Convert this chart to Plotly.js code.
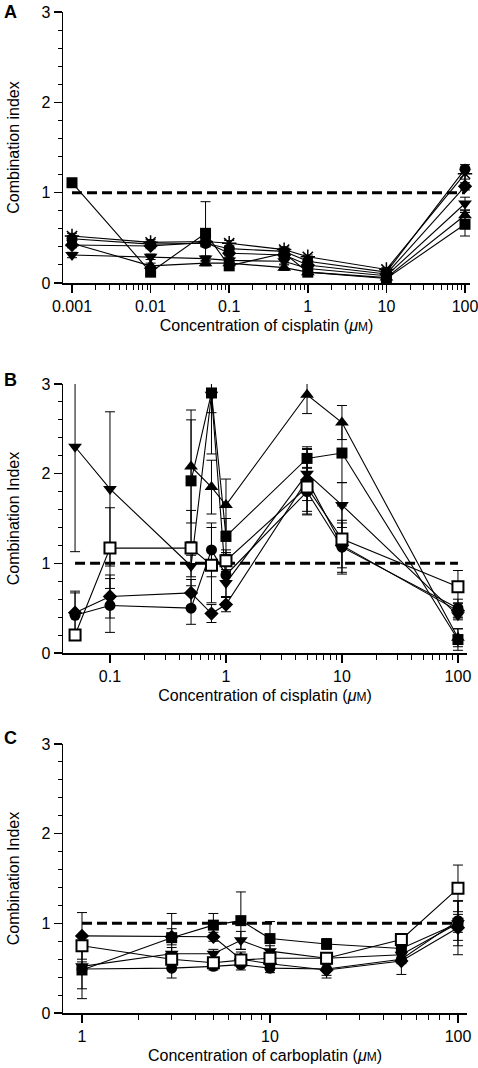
<!DOCTYPE html>
<html>
<head>
<meta charset="utf-8">
<script src="https://cdn.plot.ly/plotly-3.0.1.min.js"></script>
<style>html,body{margin:0;padding:0;background:#fff;}#chart{width:478px;height:1068px;}</style>
</head>
<body>
<div id="chart"></div>
<script>
// ---------- Panel A : cisplatin ----------
const xA = [0.001, 0.01, 0.05, 0.1, 0.5, 1, 10, 100];
const aSquare     = [1.11, 0.12, 0.55, 0.19, 0.33, 0.12, 0.05, 0.65];
const aSquareErr  = [0.02, 0.03, 0.35, 0.03, 0.03, 0.03, 0.02, 0.13];
const aCircle     = [0.49, 0.43, 0.44, 0.38, 0.35, 0.24, 0.12, 1.26];
const aCircleErr  = [0.03, 0.03, 0.04, 0.03, 0.03, 0.03, 0.02, 0.05];
const aTriUp      = [0.44, 0.19, 0.22, 0.22, 0.17, 0.12, 0.06, 0.75];
const aTriUpErr   = [0.03, 0.03, 0.03, 0.03, 0.03, 0.02, 0.02, 0.05];
const aTriDown    = [0.31, 0.29, 0.27, 0.25, 0.24, 0.16, 0.08, 0.88];
const aTriDownErr = [0.03, 0.03, 0.03, 0.03, 0.03, 0.02, 0.02, 0.07];
const aDiamond    = [0.42, 0.41, 0.45, 0.33, 0.31, 0.20, 0.10, 1.07];
const aDiamondErr = [0.03, 0.03, 0.03, 0.03, 0.03, 0.02, 0.02, 0.04];
const aStar       = [0.52, 0.45, 0.46, 0.44, 0.37, 0.29, 0.15, 1.21];
const aStarErr    = [0.03, 0.03, 0.03, 0.03, 0.03, 0.02, 0.02, 0.06];
const aTickVals = [0.001, 0.01, 0.1, 1, 10, 100];
const aTickText = ['0.001', '0.01', '0.1', '1', '10', '100'];

// ---------- Panel B : cisplatin ----------
const xB = [0.05, 0.1, 0.5, 0.75, 1, 5, 10, 100];
const bSquare        = [null, null, 1.92, 2.90, 1.30, 2.17, 2.23, 0.15];
const bSquareErr     = [null, null, 0.68, 0.68, 0.20, 0.10, 0.33, 0.12];
const bTriUp         = [null, null, 2.08, 1.85, 1.65, 2.88, 2.57, 0.17];
const bTriUpErr      = [null, null, 0.63, 0.30, 0.29, 0.21, 0.19, 0.10];
const bTriDown       = [2.30, 1.83, 0.97, 2.88, 0.78, 2.00, 1.65, 0.42];
const bTriDownErr    = [1.17, 0.86, 0.12, 0.20, 0.15, 0.30, 0.25, 0.05];
const bDiamond       = [0.45, 0.63, 0.67, 0.44, 0.54, 1.93, 1.20, 0.47];
const bDiamondErr    = [0.22, 0.24, 0.15, 0.10, 0.08, 0.35, 0.25, 0.08];
const bCircle        = [0.42, 0.53, 0.50, 1.15, 0.87, 1.80, 1.18, 0.50];
const bCircleErr     = [0.27, 0.30, 0.18, 0.30, 0.25, 0.26, 0.30, 0.10];
const bOpenSquare    = [0.20, 1.17, 1.17, 0.98, 1.03, 1.85, 1.27, 0.74];
const bOpenSquareErr = [0.04, 0.45, 0.42, 0.42, 0.12, 0.30, 0.37, 0.18];
const bTickVals = [0.1, 1, 10, 100];
const bTickText = ['0.1', '1', '10', '100'];

// ---------- Panel C : carboplatin ----------
const xC = [1, 3, 5, 7, 10, 20, 50, 100];
const cSquare        = [0.48, 0.84, 0.98, 1.03, 0.83, 0.77, 0.72, 1.00];
const cSquareErr     = [0.32, 0.27, 0.13, 0.32, 0.19, 0.06, 0.06, 0.10];
const cDiamond       = [0.86, 0.85, 0.85, 0.60, 0.55, 0.48, 0.58, 0.95];
const cDiamondErr    = [0.26, 0.09, 0.05, 0.08, 0.06, 0.06, 0.15, 0.30];
const cTriDown       = [0.52, 0.66, 0.66, 0.81, 0.69, 0.61, 0.65, 1.00];
const cTriDownErr    = [0.05, 0.07, 0.05, 0.10, 0.06, 0.05, 0.06, 0.25];
const cCircle        = [0.49, 0.50, 0.52, 0.54, 0.50, 0.49, 0.60, 1.03];
const cCircleErr     = [0.22, 0.11, 0.04, 0.06, 0.05, 0.10, 0.05, 0.22];
const cOpenSquare    = [0.75, 0.60, 0.56, 0.59, 0.61, 0.61, 0.82, 1.39];
const cOpenSquareErr = [0.05, 0.06, 0.04, 0.06, 0.05, 0.05, 0.05, 0.26];
const cTickVals = [1, 10, 100];
const cTickText = ['1', '10', '100'];

const refValue = 1;
const yTickVals = [0, 1, 2, 3];

// ---------- helpers ----------
const W = 478, H = 1068;
const FONT = 'Liberation Sans, Arial, Helvetica, sans-serif';

const SYM = {
  square:  {symbol: 'square', size: 11, color: 'black', line: {width: 0}},
  circle:  {symbol: 'circle', size: 11, color: 'black', line: {width: 0}},
  triUp:   {symbol: 'triangle-up', size: 12, color: 'black', line: {width: 0}},
  triDown: {symbol: 'triangle-down', size: 12, color: 'black', line: {width: 0}},
  diamond: {symbol: 'diamond', size: 11, color: 'black', line: {width: 0}},
  star:    {symbol: 'asterisk-open', size: 12, color: 'black', line: {width: 1.5, color: 'black'}},
  open:    {symbol: 'square', size: 11, color: 'white', line: {width: 2, color: 'black'}}
};

function series(x, y, err, sym, ax, clip) {
  return {
    type: 'scatter', mode: 'lines+markers', x: x, y: y,
    xaxis: ax.x, yaxis: ax.y, cliponaxis: clip, showlegend: false,
    line: {color: 'black', width: 1.1},
    marker: SYM[sym],
    error_y: {type: 'data', array: err, symmetric: true, color: 'black', thickness: 1, width: 5}
  };
}
function refLine(x, ax) {
  return {
    type: 'scatter', mode: 'lines', x: [x[0], x[x.length - 1]], y: [refValue, refValue],
    xaxis: ax.x, yaxis: ax.y, showlegend: false, hoverinfo: 'skip',
    line: {color: 'black', width: 3, dash: '10px,5px'}
  };
}
function minorVals(lo, hi) {
  const out = [];
  for (let d = Math.floor(Math.log10(lo)); d <= Math.ceil(Math.log10(hi)); d++) {
    for (let k = 2; k <= 9; k++) {
      const v = k * Math.pow(10, d);
      if (v > lo && v < hi) out.push(v);
    }
  }
  return out;
}
function xAxis(px0, px1, range, tv, tt, title, yname) {
  return {
    type: 'log', domain: [px0 / W, px1 / W], range: range, anchor: yname,
    showline: true, linecolor: 'black', linewidth: 1.5, mirror: false,
    ticks: 'outside', ticklen: 8, tickwidth: 1.5, tickcolor: 'black',
    tickmode: 'array', tickvals: tv, ticktext: tt, ticklabeloverflow: 'allow',
    tickfont: {size: 16, color: 'black', family: FONT},
    showgrid: false, zeroline: false,
    minor: {tickmode: 'array', tickvals: minorVals(tv[0], tv[tv.length - 1]),
            ticks: 'outside', ticklen: 5, tickwidth: 1, tickcolor: 'black', showgrid: false},
    title: {text: title, font: {size: 16, color: 'black', family: FONT}, standoff: 6}
  };
}
function yAxis(top, bottom, title, xname) {
  return {
    domain: [(H - bottom) / H, (H - top) / H], range: [0, 3], anchor: xname,
    showline: true, linecolor: 'black', linewidth: 1.5,
    ticks: 'outside', ticklen: 8, tickwidth: 1.5, tickcolor: 'black',
    tickmode: 'array', tickvals: yTickVals,
    tickfont: {size: 16, color: 'black', family: FONT},
    showgrid: false, zeroline: false,
    minor: {dtick: 0.2, ticks: 'outside', ticklen: 4, tickwidth: 1, tickcolor: 'black', showgrid: false},
    title: {text: title, font: {size: 16, color: 'black', family: FONT}, standoff: 18}
  };
}

const axA = {x: 'x', y: 'y'}, axB = {x: 'x2', y: 'y2'}, axC = {x: 'x3', y: 'y3'};
const mu = '(<i>μ</i><span style="font-size:12px">M</span>)';

const data = [
  refLine(xA, axA),
  series(xA, aTriDown, aTriDownErr, 'triDown', axA, false),
  series(xA, aTriUp, aTriUpErr, 'triUp', axA, false),
  series(xA, aDiamond, aDiamondErr, 'diamond', axA, false),
  series(xA, aCircle, aCircleErr, 'circle', axA, false),
  series(xA, aStar, aStarErr, 'star', axA, false),
  series(xA, aSquare, aSquareErr, 'square', axA, false),

  refLine(xB, axB),
  series(xB, bTriDown, bTriDownErr, 'triDown', axB, true),
  series(xB, bTriUp, bTriUpErr, 'triUp', axB, true),
  series(xB, bDiamond, bDiamondErr, 'diamond', axB, true),
  series(xB, bCircle, bCircleErr, 'circle', axB, true),
  series(xB, bSquare, bSquareErr, 'square', axB, true),
  series(xB, bOpenSquare, bOpenSquareErr, 'open', axB, true),

  refLine(xC, axC),
  series(xC, cTriDown, cTriDownErr, 'triDown', axC, false),
  series(xC, cDiamond, cDiamondErr, 'diamond', axC, false),
  series(xC, cCircle, cCircleErr, 'circle', axC, false),
  series(xC, cSquare, cSquareErr, 'square', axC, false),
  series(xC, cOpenSquare, cOpenSquareErr, 'open', axC, false)
];

function lbl(text, ypx) {
  return {xref: 'paper', yref: 'paper', x: 2 / W, y: 1 - ypx / H, xanchor: 'left', yanchor: 'middle',
          text: '<b>' + text + '</b>', showarrow: false, font: {size: 18, color: 'black', family: FONT}};
}

const layout = {
  width: W, height: H, margin: {l: 0, r: 0, t: 0, b: 0},
  paper_bgcolor: 'white', plot_bgcolor: 'white',
  font: {family: FONT, color: 'black'},
  showlegend: false,
  xaxis:  xAxis(63, 470, [-3.1145, 2.0636], aTickVals, aTickText, 'Concentration of cisplatin ' + mu, 'y'),
  yaxis:  yAxis(12, 283, 'Combination index', 'x'),
  xaxis2: xAxis(63, 467, [-1.405, 2.078], bTickVals, bTickText, 'Concentration of cisplatin ' + mu, 'y2'),
  yaxis2: yAxis(384, 653, 'Combination Index', 'x2'),
  xaxis3: xAxis(63, 467, [-0.101, 2.048], cTickVals, cTickText, 'Concentration of carboplatin ' + mu, 'y3'),
  yaxis3: yAxis(744, 1013, 'Combination Index', 'x3'),
  annotations: [lbl('A', 12), lbl('B', 380), lbl('C', 738)]
};

Plotly.newPlot('chart', data, layout, {staticPlot: true, displayModeBar: false});
</script>
</body>
</html>
